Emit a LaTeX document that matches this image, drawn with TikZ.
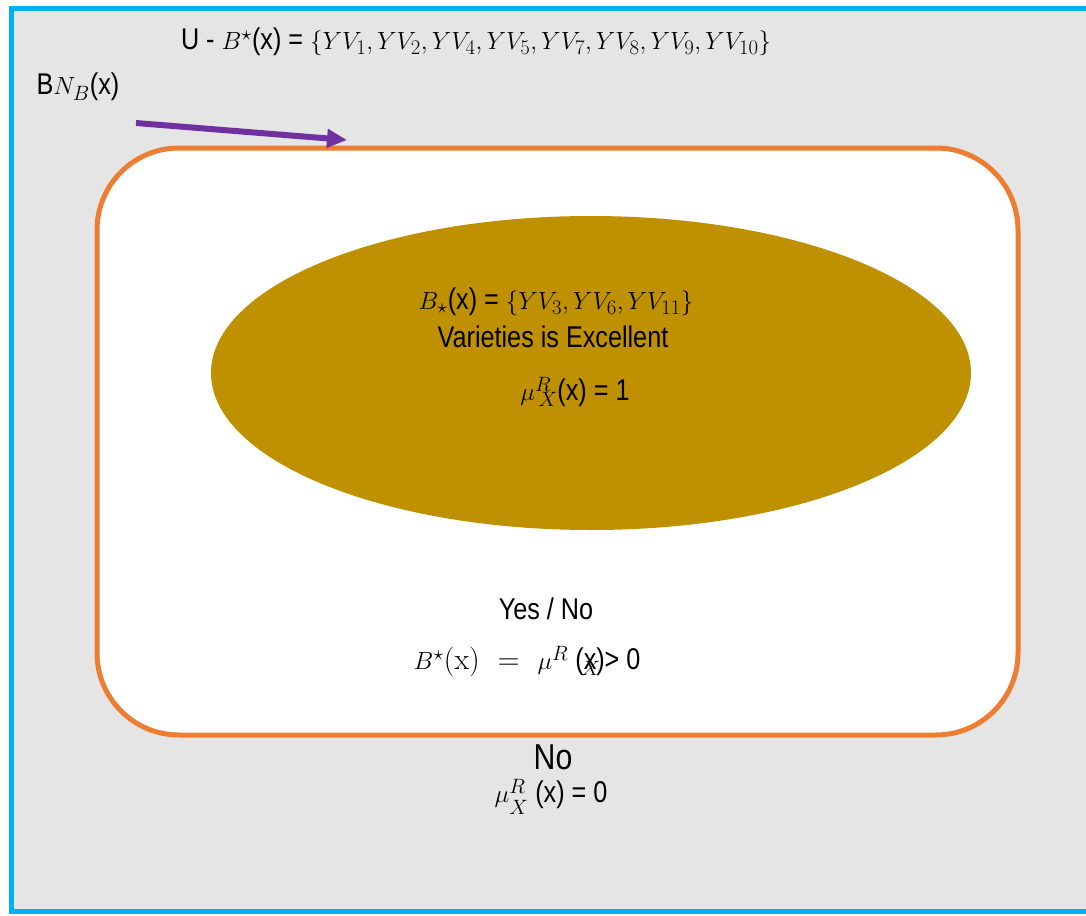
\documentclass[tikz,border=0pt]{standalone}
\usepackage{fontspec}
\setmainfont{Liberation Sans}[FakeStretch=0.84]
\newfontfamily\serifx{Latin Modern Roman}
\usepackage{tikz}
\usetikzlibrary{arrows.meta, positioning}
\definecolor{framebg}{HTML}{E5E5E5}
\definecolor{frameblue}{HTML}{00B0F0}
\definecolor{setorange}{HTML}{ED7D31}
\definecolor{lowgold}{HTML}{BF9000}
\definecolor{arrpurple}{HTML}{7030A0}

\begin{document}
\begin{tikzpicture}[
  x=1pt, y=-1pt,
  lbl/.style={inner sep=0pt, font=\fontsize{30}{34}\selectfont},
  big/.style={inner sep=0pt, font=\fontsize{36}{40}\selectfont},
  arr/.style={-{Triangle[length=20pt, width=18pt]}, line width=6pt, draw=arrpurple}
]
\useasboundingbox (0,0) rectangle (1086,915);

% universe
\draw[line width=5pt, draw=frameblue, fill=framebg] (11,9) rectangle (1092,911);

% upper approximation
\draw[line width=5pt, draw=setorange, fill=white, rounded corners=82pt]
  (97,148) rectangle (1018,735);

% lower approximation
\fill[lowgold] (591,373) ellipse [x radius=380, y radius=157];

% labels
\node[lbl] (uminus) at (476,42)  {U - $B^{\star}$(x) = $\{YV_1, YV_2, YV_4, YV_5, YV_7, YV_8, YV_9, YV_{10}\}$};
\node[lbl] (bnd)    at (78,87)   {B$N_B$(x)};
\node[lbl] (lower)  at (556,302) {$B_{\star}$(x) = $\{YV_3, YV_6, YV_{11}\}$};
\node[lbl] (excel)  at (553,337) {Varieties is Excellent};
\node[lbl] (muone)  at (575,392) {$\mu^R_{\,X}$(x) = 1};
\node[lbl] (yesno)  at (546,609) {Yes / No};
\node[lbl] (upper)  at (527,662) {$B^{\star}${\serifx (x)\ \ =\ \ }$\mu^R$ (x)\llap{$_X\,$}> 0};
\node[big] (no)     at (553,757) {No};
\node[lbl] (muzero) at (551,797) {$\mu^R_{\raisebox{-6pt}{$\scriptstyle X$}}$ (x) = 0};

% boundary arrow
\coordinate (arrs) at (136,123);
\coordinate (arre) at (347,140);
\draw[arr] (arrs) -- (arre);
\end{tikzpicture}
\end{document}
